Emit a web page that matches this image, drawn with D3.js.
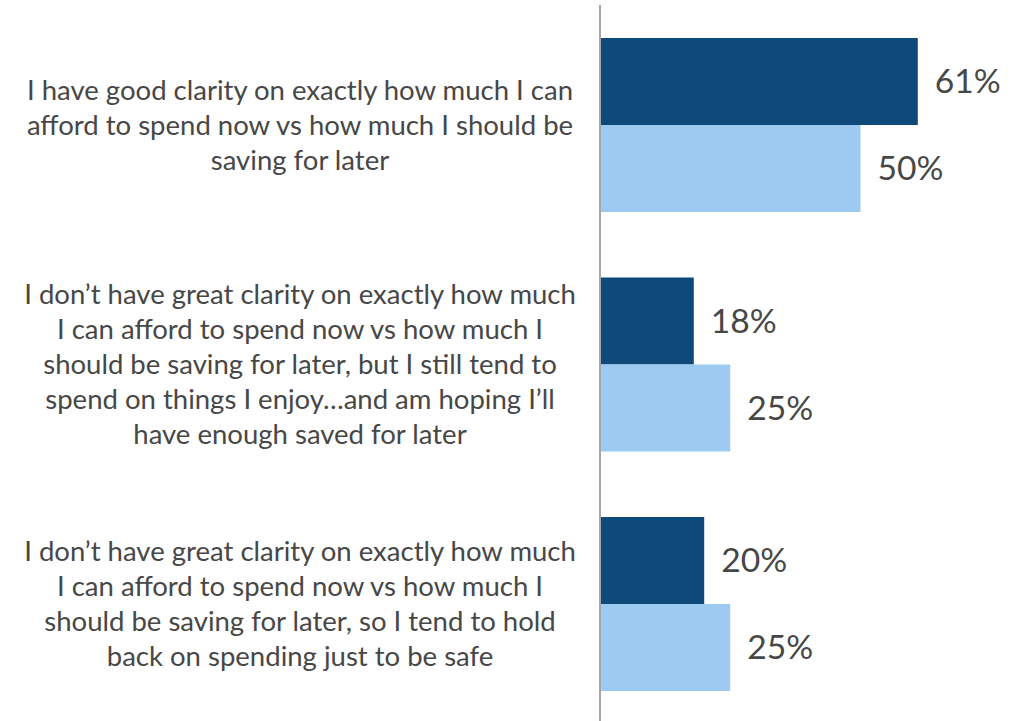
<!DOCTYPE html>
<html><head><meta charset="utf-8">
<script src="https://cdn.jsdelivr.net/npm/d3@7"></script>
<style>html,body{margin:0;padding:0;background:#fff;}svg{display:block;}</style>
</head><body>
<svg id="chart" width="1023" height="721"></svg>
<script>
const categories = [
  "I have good clarity on exactly how much I can afford to spend now vs how much I should be saving for later",
  "I don\u2019t have great clarity on exactly how much I can afford to spend now vs how much I should be saving for later, but I still tend to spend on things I enjoy\u2026and am hoping I\u2019ll have enough saved for later",
  "I don\u2019t have great clarity on exactly how much I can afford to spend now vs how much I should be saving for later, so I tend to hold back on spending just to be safe"
];
const categoryLines = [
  ["I have good clarity on exactly how much I can","afford to spend now vs how much I should be","saving for later"],
  ["I don\u2019t have great clarity on exactly how much","I can afford to spend now vs how much I","should be saving for later, but I still tend to","spend on things I enjoy\u2026and am hoping I\u2019ll","have enough saved for later"],
  ["I don\u2019t have great clarity on exactly how much","I can afford to spend now vs how much I","should be saving for later, so I tend to hold","back on spending just to be safe"]
];
const seriesNames = ["Series A","Series B"];
const seriesA = [61, 18, 20];
const seriesB = [50, 25, 25];
const colors = ["#0f497a", "#9dcaf1"];

const svg = d3.select("#chart");
const axisX = 600;
const x = d3.scaleLinear().domain([0, 81]).range([axisX, axisX + 81*5.21]);
const y = d3.scaleBand().domain(d3.range(categories.length)).range([5.25, 723.75]).paddingInner(0.2735).paddingOuter(0.2735/2);
const y2 = d3.scaleBand().domain([0,1]).range([0, y.bandwidth()]);

const data = categories.map((c,i)=>({i, vals:[seriesA[i], seriesB[i]]}));
const g = svg.selectAll("g.cat").data(data).join("g").attr("class","cat")
  .attr("transform", d=>`translate(0,${y(d.i)})`);

g.selectAll("rect").data(d=>d.vals.map((v,k)=>({v,k}))).join("rect")
  .attr("x", x(0)).attr("y", d=>y2(d.k)).attr("width", d=>x(d.v)-x(0))
  .attr("height", y2.bandwidth()).attr("fill", d=>colors[d.k]);

const FONT = "Lato, 'Open Sans', sans-serif";
function fit(text, targetW, base){
  const t = svg.append("text").attr("font-family",FONT).attr("font-size",base).text(text);
  const w = t.node().getComputedTextLength(); t.remove();
  return base*targetW/w;
}
const valSize = fit("61%", 66, 36);
const catSize = fit("I don\u2019t have great clarity on exactly how much", 552, 28);

g.selectAll("text.val").data(d=>d.vals.map((v,k)=>({v,k}))).join("text")
  .attr("class","val")
  .attr("x", d=>x(d.v)+17).attr("y", d=>y2(d.k)+y2.bandwidth()/2)
  .attr("dy","0.35em").attr("font-family",FONT).attr("font-size",valSize)
  .attr("fill","#474747").text(d=>d.v+"%");

const lineH = 35;
g.each(function(d){
  const lines = categoryLines[d.i];
  const cy = y.bandwidth()/2;
  const t = d3.select(this).append("text").attr("font-family",FONT).attr("font-size",catSize)
    .attr("fill","#474747").attr("text-anchor","middle");
  lines.forEach((ln,j)=>{
    t.append("tspan").attr("x",300).attr("y", cy + (j-(lines.length-1)/2)*lineH).attr("dy","0.35em").text(ln);
  });
});

svg.append("line").attr("x1",axisX).attr("x2",axisX).attr("y1",5).attr("y2",721)
  .attr("stroke","#a6a6a6").attr("stroke-width",2);
</script>
</body></html>
